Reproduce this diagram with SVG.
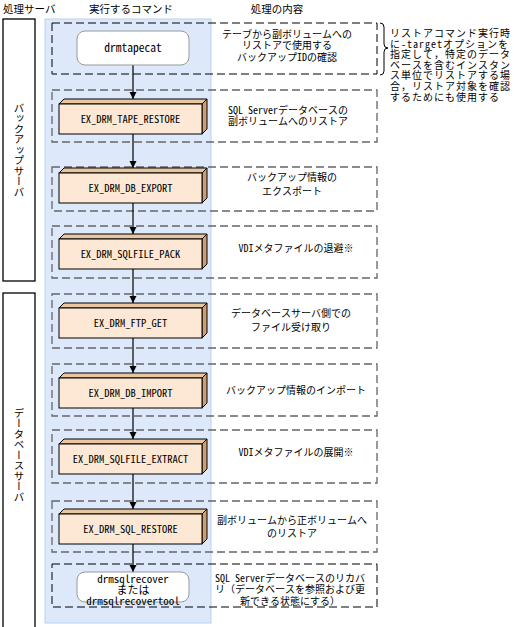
<svg xmlns="http://www.w3.org/2000/svg" width="514" height="627" viewBox="0 0 514 627">
<defs>
<style>
text{font-family:"Noto Sans Mono CJK JP","Noto Sans CJK JP","DejaVu Sans Mono",monospace;fill:#000}
.hd{font-size:10.5px}
.ds{font-size:10px;text-anchor:middle}
.nt{font-size:10px;letter-spacing:1px}
.cmd{font-size:10.5px;text-anchor:middle}
.rc{font-size:11px;text-anchor:middle}
.vt{font-size:10.5px;writing-mode:vertical-rl;text-anchor:middle}
.dg{fill:none;stroke:#666;stroke-width:1.3;stroke-dasharray:8 4}
.dk{fill:none;stroke:#000;stroke-width:1;stroke-dasharray:8 4}
.front{fill:#fce8d4;stroke:#000;stroke-width:1}
.top{fill:#e7c6a1;stroke:#000;stroke-width:1}
.side{fill:#cf9e70;stroke:#000;stroke-width:1}
.rr{fill:#fff;stroke:#999;stroke-width:1}
.cn{stroke:#000;stroke-width:1.2;fill:none}
</style>
<marker id="ah" markerWidth="8" markerHeight="9" refX="7" refY="4.5" orient="auto" markerUnits="userSpaceOnUse">
<path d="M0,1 L7,4.5 L0,8 Z" fill="#000"/>
</marker>
<g id="box3d">
<polygon class="top" points="59,104 64,99 207,99 202,104"/>
<polygon class="side" points="202,104 207,99 207,129 202,134"/>
<rect class="front" x="59" y="104" width="143" height="30"/>
</g>
</defs>

<!-- headers -->
<g id="headers">
<text class="hd" x="3" y="13">処理サーバ</text>
<text class="hd" x="131" y="13" text-anchor="middle">実行するコマンド</text>
<text class="hd" x="277" y="13" text-anchor="middle">処理の内容</text>
</g>

<!-- server columns -->
<g id="server-backup">
<rect x="3" y="19" width="32" height="262" fill="#fff" stroke="#000" stroke-width="1.3"/>
<text class="vt" x="19" y="150">バックアップサーバ</text>
</g>
<g id="server-db">
<rect x="3" y="293" width="32" height="340" fill="#fff" stroke="#000" stroke-width="1.3"/>
<text class="vt" x="19" y="455">データベースサーバ</text>
</g>

<!-- command panel -->
<rect id="panel" x="45" y="19" width="166" height="604" fill="#dde9fb" stroke="#b6d2f2" stroke-width="1"/>

<!-- dashed step boxes -->
<g id="steps">
<rect class="dk" x="52" y="23" width="325" height="51"/>
<rect class="dg" x="52" y="90" width="325" height="52"/>
<rect class="dg" x="52" y="167" width="325" height="44"/>
<rect class="dg" x="52" y="226" width="325" height="52"/>
<rect class="dg" x="52" y="294" width="325" height="54"/>
<rect class="dg" x="52" y="364" width="325" height="52"/>
<rect class="dg" x="52" y="430" width="325" height="53"/>
<rect class="dg" x="52" y="501" width="325" height="51"/>
<rect class="dk" x="52" y="564" width="325" height="43"/>
</g>

<!-- connectors -->
<g id="connectors">
<line class="cn" x1="133" y1="65" x2="133" y2="99" marker-end="url(#ah)"/>
<line class="cn" x1="133" y1="134" x2="133" y2="168" marker-end="url(#ah)"/>
<line class="cn" x1="133" y1="203" x2="133" y2="234" marker-end="url(#ah)"/>
<line class="cn" x1="133" y1="269" x2="133" y2="303" marker-end="url(#ah)"/>
<line class="cn" x1="133" y1="338" x2="133" y2="373" marker-end="url(#ah)"/>
<line class="cn" x1="133" y1="408" x2="133" y2="439" marker-end="url(#ah)"/>
<line class="cn" x1="133" y1="474" x2="133" y2="509" marker-end="url(#ah)"/>
<line class="cn" x1="133" y1="544" x2="133" y2="572" marker-end="url(#ah)"/>
</g>

<!-- nodes -->
<g id="n-drmtapecat">
<rect class="rr" x="77" y="31" width="112" height="34" rx="8"/>
<text class="rc" x="133" y="52" style="font-size:11.5px">drmtapecat</text>
</g>
<g id="n-tape-restore">
<use href="#box3d"/>
<text class="cmd" x="130.5" y="123">EX_DRM_TAPE_RESTORE</text>
</g>
<g id="n-db-export">
<use href="#box3d" y="69"/>
<text class="cmd" x="130.5" y="192">EX_DRM_DB_EXPORT</text>
</g>
<g id="n-sqlfile-pack">
<use href="#box3d" y="135"/>
<text class="cmd" x="130.5" y="258">EX_DRM_SQLFILE_PACK</text>
</g>
<g id="n-ftp-get">
<use href="#box3d" y="204"/>
<text class="cmd" x="130.5" y="327">EX_DRM_FTP_GET</text>
</g>
<g id="n-db-import">
<use href="#box3d" y="274"/>
<text class="cmd" x="130.5" y="397">EX_DRM_DB_IMPORT</text>
</g>
<g id="n-sqlfile-extract">
<use href="#box3d" y="340"/>
<text class="cmd" x="130.5" y="463">EX_DRM_SQLFILE_EXTRACT</text>
</g>
<g id="n-sql-restore">
<use href="#box3d" y="410"/>
<text class="cmd" x="130.5" y="533">EX_DRM_SQL_RESTORE</text>
</g>
<g id="n-recover">
<rect class="rr" x="77" y="572" width="112" height="30" rx="8"/>
<text class="rc" x="133" y="582.5">drmsqlrecover</text>
<text class="rc" x="133" y="593.5">または</text>
<text class="rc" x="133" y="604.5">drmsqlrecovertool</text>
</g>

<!-- descriptions -->
<g id="descriptions">
<text class="ds" x="287" y="37.5">テーブから副ボリュームへの</text>
<text class="ds" x="287" y="49">リストアで使用する</text>
<text class="ds" x="287" y="60.5">バックアップIDの確認</text>
<text class="ds" x="288" y="114">SQL Serverデータベースの</text>
<text class="ds" x="288" y="125">副ボリュームへのリストア</text>
<text class="ds" x="292" y="181">バックアップ情報の</text>
<text class="ds" x="292" y="195">エクスポート</text>
<text class="ds" x="296" y="252">VDIメタファイルの退避※</text>
<text class="ds" x="291" y="317">データベースサーバ側での</text>
<text class="ds" x="291" y="331">ファイル受け取り</text>
<text class="ds" x="296" y="394">バックアップ情報のインポート</text>
<text class="ds" x="296" y="456">VDIメタファイルの展開※</text>
<text class="ds" x="292" y="524">副ボリュームから正ボリュームへ</text>
<text class="ds" x="292" y="537">のリストア</text>
<text class="ds" x="290" y="581.5">SQL Serverデータベースのリカバ</text>
<text class="ds" x="290" y="593">リ（データベースを参照および更</text>
<text class="ds" x="290" y="604.5">新できる状態にする）</text>
</g>

<!-- note -->
<g id="note">
<path d="M380,23 Q384,23 384,27 L384,44 Q384,48 388,48 Q384,48 384,52 L384,71 Q384,75 380,75" fill="none" stroke="#000" stroke-width="1"/>
<text class="nt" x="390" y="37">リストアコマンド実行時</text>
<text class="nt" x="390" y="47.6">に-targetオプションを</text>
<text class="nt" x="390" y="58.2">指定して，特定のデータ</text>
<text class="nt" x="390" y="68.8">ベースを含むインスタン</text>
<text class="nt" x="390" y="79.4">ス単位でリストアする場</text>
<text class="nt" x="390" y="90">合，リストア対象を確認</text>
<text class="nt" x="390" y="100.6">するためにも使用する</text>
</g>
</svg>
